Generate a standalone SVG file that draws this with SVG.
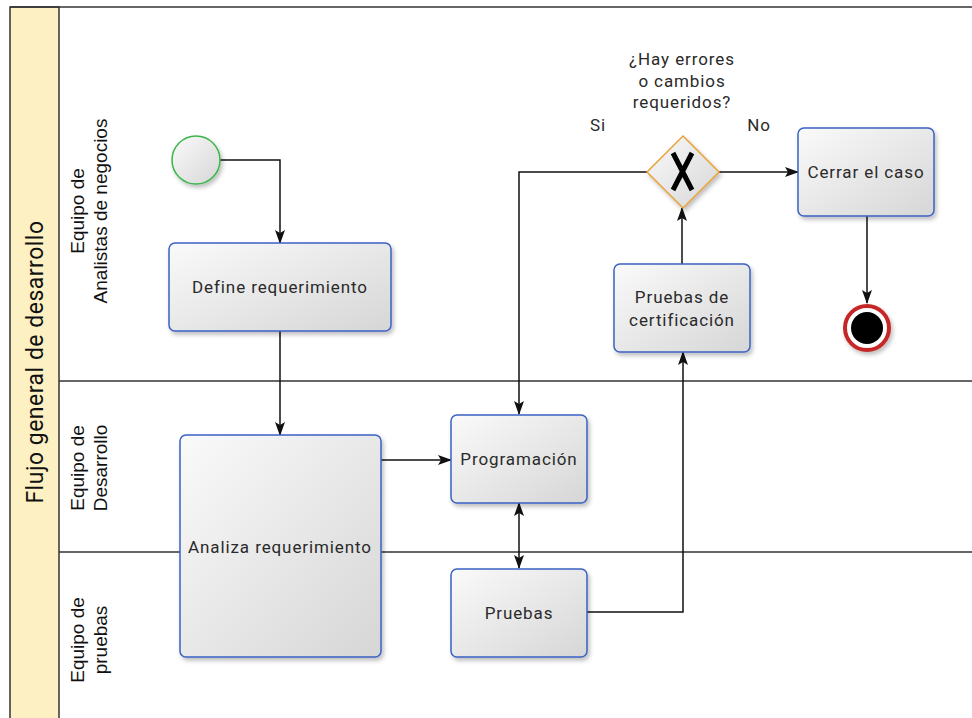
<svg xmlns="http://www.w3.org/2000/svg" width="972" height="718" viewBox="0 0 972 718">
<style>
.lane{stroke:#333;stroke-width:1.5;fill:none}
.task{fill:url(#tg);stroke:#3a62c4;stroke-width:1.5;filter:url(#sh)}
.t{font-family:Roboto,"Liberation Sans",sans-serif;font-size:17px;letter-spacing:0.9px;fill:#2a2a2a;text-anchor:middle}
.ll{font-family:"Liberation Sans",Arial,sans-serif;font-size:19px;fill:#111;text-anchor:middle}
.c{stroke:#111;stroke-width:1.5;fill:none}
</style>
<defs>
<linearGradient id="tg" x1="0" y1="0" x2="1" y2="1">
<stop offset="0" stop-color="#fafafa"/>
<stop offset="1" stop-color="#d6d6d6"/>
</linearGradient>
<filter id="sh" x="-10%" y="-10%" width="130%" height="130%">
<feDropShadow dx="2" dy="3" stdDeviation="2" flood-color="#000" flood-opacity="0.25"/>
</filter>
<marker id="ar" viewBox="0 0 14 10" refX="13" refY="5" markerWidth="14" markerHeight="10" markerUnits="userSpaceOnUse" orient="auto-start-reverse">
<path d="M0,0 L14,5 L0,10 L3,5 z" fill="#111"/>
</marker>
</defs>
<rect x="0" y="0" width="972" height="718" fill="#fff"/>
<g id="pool">
<rect x="10" y="7" width="49" height="720" fill="#fdf0c2" stroke="#333" stroke-width="1.5"/>
<line class="lane" x1="10" y1="7" x2="972" y2="7"/>
<line class="lane" x1="59" y1="381" x2="972" y2="381"/>
<line class="lane" x1="59" y1="552" x2="972" y2="552"/>
<text transform="translate(43,362) rotate(-90)" font-family="Roboto,'Liberation Sans',sans-serif" font-size="23" letter-spacing="0.5" fill="#111" text-anchor="middle">Flujo general de desarrollo</text>
</g>
<g id="lane1"><text class="ll" transform="translate(84,211) rotate(-90)">Equipo de</text><text class="ll" transform="translate(107,211) rotate(-90)">Analistas de negocios</text></g>
<g id="lane2"><text class="ll" transform="translate(84,468) rotate(-90)">Equipo de</text><text class="ll" transform="translate(107,468) rotate(-90)">Desarrollo</text></g>
<g id="lane3"><text class="ll" transform="translate(84,640) rotate(-90)">Equipo de</text><text class="ll" transform="translate(107,640) rotate(-90)">pruebas</text></g>
<g id="connectors">
<path class="c" d="M220,160 H280 V243" marker-end="url(#ar)"/>
<path class="c" d="M280,331 V435" marker-end="url(#ar)"/>
<path class="c" d="M381,460 H451" marker-end="url(#ar)"/>
<path class="c" d="M519,503 V568" marker-start="url(#ar)" marker-end="url(#ar)"/>
<path class="c" d="M587,612 H683 V352" marker-end="url(#ar)"/>
<path class="c" d="M682,264 V208" marker-end="url(#ar)"/>
<path class="c" d="M647,172 H519 V414" marker-end="url(#ar)"/>
<path class="c" d="M719,172 H798" marker-end="url(#ar)"/>
<path class="c" d="M867,216 V303" marker-end="url(#ar)"/>
</g>
<g id="start"><circle cx="196" cy="160" r="24" fill="url(#tg)" stroke="#3cb54a" stroke-width="1.5" filter="url(#sh)"/></g>
<g id="define"><rect class="task" x="169" y="243" width="222" height="88" rx="6"/><text class="t" x="280" y="293">Define requerimiento</text></g>
<g id="analiza"><rect class="task" x="180" y="435" width="201" height="222" rx="6"/><text class="t" x="280" y="553">Analiza requerimiento</text></g>
<g id="programacion"><rect class="task" x="451" y="415" width="136" height="88" rx="6"/><text class="t" x="519" y="465">Programación</text></g>
<g id="pruebas"><rect class="task" x="451" y="569" width="136" height="88" rx="6"/><text class="t" x="519" y="619">Pruebas</text></g>
<g id="certificacion"><rect class="task" x="614" y="264" width="136" height="88" rx="6"/><text class="t" x="682" y="303">Pruebas de</text><text class="t" x="682" y="326">certificación</text></g>
<g id="cerrar"><rect class="task" x="798" y="128" width="136" height="88" rx="6"/><text class="t" x="866" y="178">Cerrar el caso</text></g>
<g id="gateway">
<path d="M683,136 L719,172 L683,208 L647,172 z" fill="url(#tg)" stroke="#e8a23a" stroke-width="1.5" filter="url(#sh)"/>
<path d="M673,153 L692,190 M692,153 L673,190" stroke="#000" stroke-width="5" fill="none"/>
<text class="t" x="682" y="65">¿Hay errores</text>
<text class="t" x="682" y="87">o cambios</text>
<text class="t" x="682" y="108">requeridos?</text>
<text class="t" x="598" y="131">Si</text>
<text class="t" x="759" y="131">No</text>
</g>
<g id="end">
<circle cx="867" cy="328" r="22" fill="#fff" stroke="#c62828" stroke-width="4" filter="url(#sh)"/>
<circle cx="867" cy="328" r="16" fill="#000"/>
</g>
</svg>
